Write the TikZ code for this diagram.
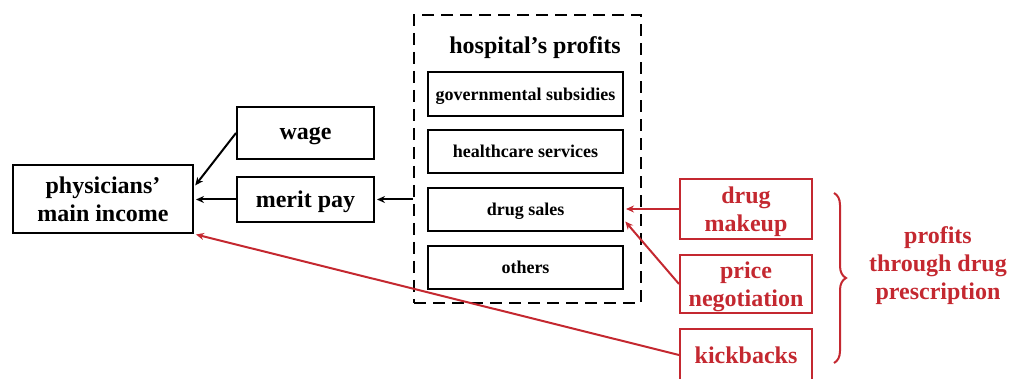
\documentclass[tikz,border=0pt]{standalone}
\usepackage{fontspec}
\setmainfont{Liberation Serif}
\usetikzlibrary{arrows.meta,decorations.pathreplacing}
\definecolor{myred}{RGB}{196,40,48}
\begin{document}
\begin{tikzpicture}[x=1pt,y=-1pt,
  bigfont/.style={font=\fontsize{24}{28}\selectfont\bfseries},
  smallfont/.style={font=\fontsize{18}{21}\selectfont\bfseries},
  box/.style={draw=black,line width=2pt,inner sep=0pt,align=center,text depth=0pt},
  redbox/.style={draw=myred,text=myred,line width=2pt,inner sep=0pt,align=center,text depth=0pt,bigfont},
  arr/.style={line width=2pt,-{Stealth[length=8pt,width=7pt]}},
  redarr/.style={arr,draw=myred,color=myred}]
\useasboundingbox (0,0) rectangle (1009,379);
\node[box,bigfont,minimum width=180pt,minimum height=68pt] (phys) at (103,199) {physicians'\\main income};
\node[box,bigfont,minimum width=137pt,minimum height=52pt] (wage) at (305.5,133) {wage};
\node[box,bigfont,minimum width=137pt,minimum height=45pt] (merit) at (305.5,199.5) {merit pay};
\node[draw=black,line width=2pt,dash pattern=on 12pt off 7pt,minimum width=227pt,minimum height=288pt,inner sep=0pt] (hosp) at (527.5,159) {};
\node[bigfont,text depth=0pt] (title) at (535,45) {hospital's profits};
\node[box,smallfont,minimum width=195pt,minimum height=44pt] (gov) at (525.5,94) {governmental subsidies};
\node[box,smallfont,minimum width=195pt,minimum height=43pt] (health) at (525.5,151.5) {healthcare services};
\node[box,smallfont,minimum width=195pt,minimum height=43pt] (drug) at (525.5,209.5) {drug sales};
\node[box,smallfont,minimum width=195pt,minimum height=43pt] (others) at (525.5,267.5) {others};
\node[redbox,minimum width=132pt,minimum height=60pt] (makeup) at (746,209) {drug\\makeup};
\node[redbox,minimum width=132pt,minimum height=58pt] (price) at (746,284) {price\\negotiation};
\node[redbox,minimum width=132pt,minimum height=52pt] (kick) at (746,355) {kickbacks};
\node[bigfont,text=myred,align=center,text depth=0pt] (profits) at (938,263) {profits\\through drug\\prescription};
\coordinate (bt) at (834,193);
\coordinate (bb) at (834,363);
\draw[myred,line width=2pt,decorate,decoration={brace,amplitude=12pt}] (bt) -- (bb);
\draw[arr,shorten >=2pt] (hosp.west |- merit.east) -- (merit.east);
\draw[arr,shorten >=2pt] (merit.west) -- (phys.east |- merit.west);
\draw[arr,shorten >=2pt] (wage.west) -- ([yshift=12pt]phys.east);
\draw[redarr,shorten >=2pt] (makeup.west) -- (drug.east |- makeup.west);
\draw[redarr,shorten >=2pt] (price.west) -- ([yshift=-10.5pt]drug.east);
\draw[redarr,shorten >=2pt] (kick.west) -- (phys.south east);
\end{tikzpicture}
\end{document}
